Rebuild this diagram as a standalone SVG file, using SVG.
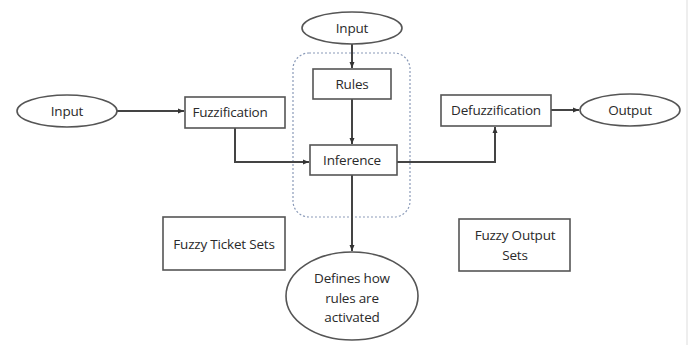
<svg xmlns="http://www.w3.org/2000/svg" width="689" height="345" viewBox="0 0 689 345">
<style>
.n{fill:#fff;stroke:#555;stroke-width:1.6}
.t{font-family:"Open Sans","Liberation Sans",sans-serif;font-size:13.5px;fill:#2a2a2a;text-anchor:middle;dominant-baseline:central;letter-spacing:-0.2px}
.c{fill:none;stroke:#444;stroke-width:2}
</style>
<defs>
<marker id="a" markerWidth="8" markerHeight="8" refX="6" refY="4" orient="auto" markerUnits="userSpaceOnUse">
<path d="M0,1.5 L6,4 L0,6.5 Z" fill="#333"/>
</marker>
</defs>
<rect x="0" y="0" width="689" height="345" fill="#fff"/>
<line x1="687" y1="0" x2="687" y2="345" stroke="#ddd" stroke-width="1"/>
<g id="group-inference">
<rect x="293" y="53" width="117" height="164" rx="16" fill="none" stroke="#8a9ab8" stroke-width="1.2" stroke-dasharray="2,2"/>
</g>
<g id="connectors">
<line class="c" x1="117" y1="111" x2="184" y2="111" marker-end="url(#a)"/>
<polyline class="c" points="235,128 235,162 309,162" marker-end="url(#a)"/>
<line class="c" x1="352" y1="44" x2="352" y2="68" marker-end="url(#a)"/>
<line class="c" x1="352" y1="99" x2="352" y2="144" marker-end="url(#a)"/>
<polyline class="c" points="397,162 495,162 495,127" marker-end="url(#a)"/>
<line class="c" x1="551" y1="110" x2="579" y2="110" marker-end="url(#a)"/>
<line class="c" x1="352" y1="175" x2="352" y2="251" marker-end="url(#a)"/>
</g>
<g id="input-left"><ellipse class="n" cx="67" cy="111" rx="50" ry="16"/><text class="t" x="67" y="111">Input</text></g>
<g id="fuzzification"><rect class="n" x="185" y="97" width="100" height="31"/><text class="t" x="230" y="112">Fuzzification</text></g>
<g id="input-top"><ellipse class="n" cx="352" cy="28" rx="50" ry="16"/><text class="t" x="352" y="28">Input</text></g>
<g id="rules"><rect class="n" x="313" y="69" width="78" height="30"/><text class="t" x="352" y="84">Rules</text></g>
<g id="inference"><rect class="n" x="310" y="145" width="87" height="30"/><text class="t" x="352" y="160">Inference</text></g>
<g id="defuzzification"><rect class="n" x="441" y="95" width="110" height="31"/><text class="t" x="496" y="110">Defuzzification</text></g>
<g id="output"><ellipse class="n" cx="630" cy="110" rx="50" ry="16"/><text class="t" x="630" y="110">Output</text></g>
<g id="fuzzy-ticket-sets"><rect class="n" x="163" y="217" width="122" height="53"/><text class="t" x="224" y="244">Fuzzy Ticket Sets</text></g>
<g id="fuzzy-output-sets"><rect class="n" x="459" y="219" width="111" height="52"/><text class="t" x="515" y="235">Fuzzy Output</text><text class="t" x="515" y="255">Sets</text></g>
<g id="defines"><ellipse class="n" cx="352" cy="296" rx="66" ry="44"/><text class="t" x="352" y="278">Defines how</text><text class="t" x="352" y="298">rules are</text><text class="t" x="352" y="317">activated</text></g>
</svg>
